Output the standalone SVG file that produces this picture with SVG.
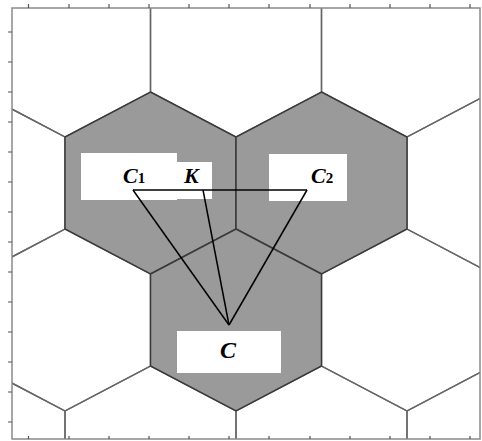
<svg xmlns="http://www.w3.org/2000/svg" xmlns:xlink="http://www.w3.org/1999/xlink" width="482" height="441" viewBox="0 0 482 441">
  <style>
    .cell { fill: none; stroke: #666; stroke-width: 1.4; }
    .shaded { fill: #9a9a9a; stroke: #3a3a3a; stroke-width: 1.5; }
    .frame { fill: none; stroke: #8a8a8a; stroke-width: 1.5; }
    .tick { stroke: #555; stroke-width: 1.2; }
    .box { fill: #fff; stroke: none; }
    .lbl { font-family: "Liberation Serif", "Times New Roman", serif; font-weight: bold; font-style: italic; fill: #000; }
    .sub { font-family: "Liberation Serif", "Times New Roman", serif; font-weight: bold; font-style: normal; font-size: 15px; }
    .link { stroke: #000; stroke-width: 1.5; fill: none; }
  </style>
  <defs>
    <polygon id="hex" points="0,-91 85.5,-46 85.5,46 0,91 -85.5,46 -85.5,-46"/>
    <clipPath id="plot"><rect x="12" y="8" width="468" height="431"/></clipPath>
  </defs>
  <rect x="0" y="0" width="482" height="441" fill="#fff"/>

  <g id="grid" clip-path="url(#plot)">
    <use xlink:href="#hex" class="cell" x="65" y="46"/>
    <use xlink:href="#hex" class="cell" x="236" y="46"/>
    <use xlink:href="#hex" class="cell" x="407" y="46"/>
    <use xlink:href="#hex" class="cell" x="-20.5" y="183"/>
    <use xlink:href="#hex" class="cell" x="492.5" y="183"/>
    <use xlink:href="#hex" class="cell" x="65" y="320"/>
    <use xlink:href="#hex" class="cell" x="407" y="320"/>
    <use xlink:href="#hex" class="cell" x="-20.5" y="457"/>
    <use xlink:href="#hex" class="cell" x="150.5" y="457"/>
    <use xlink:href="#hex" class="cell" x="321.5" y="457"/>
    <use xlink:href="#hex" class="cell" x="492.5" y="457"/>
  </g>

  <g id="cell-C1"><use xlink:href="#hex" class="shaded" x="150.5" y="183"/></g>
  <g id="cell-C2"><use xlink:href="#hex" class="shaded" x="321.5" y="183"/></g>
  <g id="cell-C"><use xlink:href="#hex" class="shaded" x="236" y="320"/></g>

  <g id="frame">
    <rect class="frame" x="12" y="8" width="468" height="431"/>
    <path class="tick" d="M28.5,4V8M69,4V8M109,4V8M149,4V8M189,4V8M229,4V8M269,4V8M310,4V8M350,4V8M390,4V8M430,4V8M470,4V8"/>
    <path class="tick" d="M28.5,436V439M69,436V439M109,436V439M149,436V439M189,436V439M229,436V439M269,436V439M310,436V439M350,436V439M390,436V439M430,436V439M470,436V439"/>
    <path class="tick" d="M8,32H12M8,62H12M8,92H12M8,122H12M8,152H12M8,182H12M8,212H12M8,242H12M8,272H12M8,302H12M8,332H12M8,362H12M8,392H12M8,422H12"/>
  </g>

  <g id="label-C1">
    <rect class="box" x="81" y="153" width="96" height="47"/>
    <text class="lbl" x="123" y="183" font-size="22">C<tspan class="sub" dx="0">1</tspan></text>
  </g>
  <g id="label-K">
    <rect class="box" x="176" y="162" width="36" height="37"/>
    <text class="lbl" x="184" y="183" font-size="22">K</text>
  </g>
  <g id="label-C2">
    <rect class="box" x="269" y="154" width="78" height="47"/>
    <text class="lbl" x="311" y="183" font-size="22">C<tspan class="sub" dx="0">2</tspan></text>
  </g>
  <g id="label-C">
    <rect class="box" x="177" y="331" width="104" height="42"/>
    <text class="lbl" x="220" y="358" font-size="24">C</text>
  </g>

  <g id="connectors">
    <line class="link" x1="133" y1="190" x2="307" y2="190"/>
    <line class="link" x1="133" y1="190" x2="229" y2="325"/>
    <line class="link" x1="203" y1="190" x2="229" y2="325"/>
    <line class="link" x1="307" y1="190" x2="229" y2="325"/>
  </g>
</svg>
